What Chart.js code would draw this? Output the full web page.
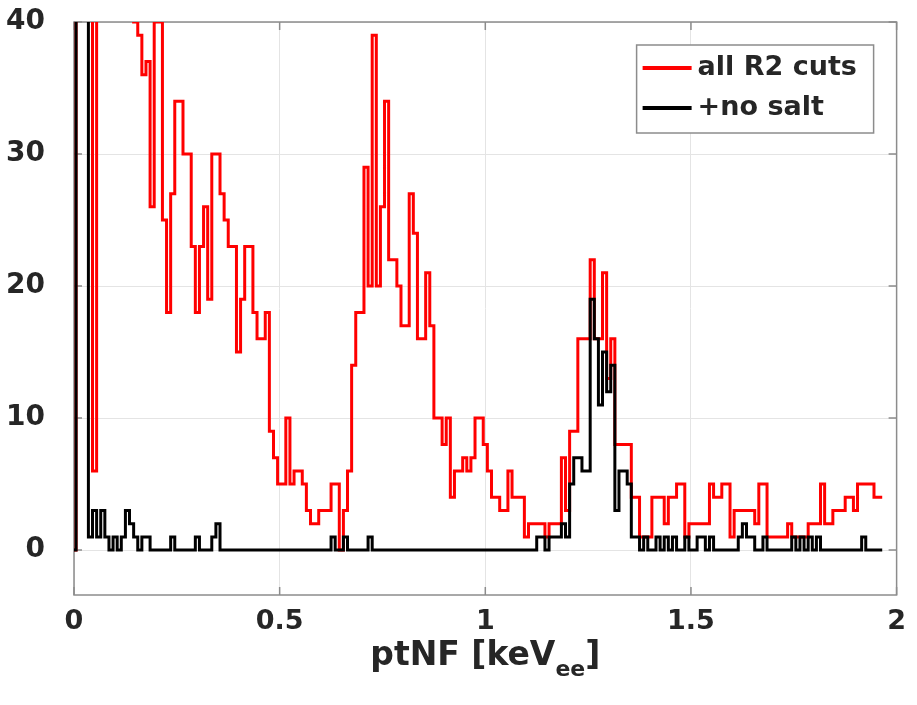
<!DOCTYPE html>
<html>
<head>
<meta charset="utf-8">
<script src="https://cdn.jsdelivr.net/npm/chart.js@4.4.1/dist/chart.umd.min.js"></script>
<style>
  html, body { margin: 0; padding: 0; background: #ffffff; }
  #myChart { display: block; }
</style>
</head>
<body>
<canvas id="myChart" width="917" height="705"></canvas>
<script>
// histogram bins are 0.01 keVee wide, bin i is centred on i * binWidth
const binWidth = 0.01;

// counts per bin (values above 40 run off the top)
const redCounts = [
  0, 0, 60, 60, 60, 60, 6, 55, 55, 50,      // 0.00 - 0.09
  50, 48, 48, 45, 45, 42, 40, 39, 36, 37,   // 0.10 - 0.19
  26, 40, 40, 25, 18, 27, 34, 34, 30, 30,   // 0.20 - 0.29
  23, 18, 23, 26, 19, 30, 30, 27, 25, 23,   // 0.30 - 0.39
  23, 15, 19, 23, 23, 18, 16, 16, 18, 9,    // 0.40 - 0.49
  7, 5, 5, 10, 5, 6, 6, 5, 3, 2,            // 0.50 - 0.59
  2, 3, 3, 3, 5, 5, 0, 3, 6, 14,            // 0.60 - 0.69
  18, 18, 29, 20, 39, 20, 26, 34, 22, 22,   // 0.70 - 0.79
  20, 17, 17, 27, 24, 16, 16, 21, 17, 10,   // 0.80 - 0.89
  10, 8, 10, 4, 6, 6, 7, 6, 7, 10,          // 0.90 - 0.99
  10, 8, 6, 4, 4, 3, 3, 6, 4, 4,            // 1.00 - 1.09
  4, 1, 2, 2, 2, 2, 1, 2, 2, 2,             // 1.10 - 1.19
  7, 3, 9, 9, 16, 16, 16, 22, 16, 16,       // 1.20 - 1.29
  21, 13, 16, 8, 8, 8, 8, 4, 4, 1,          // 1.30 - 1.39
  1, 1, 4, 4, 4, 2, 4, 4, 5, 5,             // 1.40 - 1.49
  1, 2, 2, 2, 2, 2, 5, 4, 4, 5,             // 1.50 - 1.59
  5, 1, 3, 3, 3, 3, 3, 2, 5, 5,             // 1.60 - 1.69
  1, 1, 1, 1, 1, 2, 1, 1, 1, 1,             // 1.70 - 1.79
  2, 2, 2, 5, 2, 2, 3, 3, 3, 4,             // 1.80 - 1.89
  4, 3, 5, 5, 5, 5, 4                       // 1.90 - 1.96
];

const blackCounts = [
  0, 0, 60, 60, 60, 1, 3, 1, 3, 1,          // 0.00 - 0.09
  0, 1, 0, 1, 3, 2, 1, 0, 1, 1,             // 0.10 - 0.19
  0, 0, 0, 0, 0, 1, 0, 0, 0, 0,             // 0.20 - 0.29
  0, 1, 0, 0, 0, 1, 2, 0, 0, 0,             // 0.30 - 0.39
  0, 0, 0, 0, 0, 0, 0, 0, 0, 0,             // 0.40 - 0.49
  0, 0, 0, 0, 0, 0, 0, 0, 0, 0,             // 0.50 - 0.59
  0, 0, 0, 0, 1, 0, 0, 1, 0, 0,             // 0.60 - 0.69
  0, 0, 0, 1, 0, 0, 0, 0, 0, 0,             // 0.70 - 0.79
  0, 0, 0, 0, 0, 0, 0, 0, 0, 0,             // 0.80 - 0.89
  0, 0, 0, 0, 0, 0, 0, 0, 0, 0,             // 0.90 - 0.99
  0, 0, 0, 0, 0, 0, 0, 0, 0, 0,             // 1.00 - 1.09
  0, 0, 0, 0, 1, 1, 0, 1, 1, 1,             // 1.10 - 1.19
  2, 1, 5, 7, 7, 6, 6, 19, 16, 11,          // 1.20 - 1.29
  15, 12, 14, 3, 6, 6, 5, 1, 1, 0,          // 1.30 - 1.39
  1, 0, 0, 1, 0, 1, 0, 1, 0, 0,             // 1.40 - 1.49
  1, 0, 0, 1, 1, 0, 1, 0, 0, 0,             // 1.50 - 1.59
  0, 0, 0, 1, 2, 1, 1, 0, 0, 1,             // 1.60 - 1.69
  0, 0, 0, 0, 0, 0, 1, 0, 1, 0,             // 1.70 - 1.79
  1, 0, 1, 0, 0, 0, 0, 0, 0, 0,             // 1.80 - 1.89
  0, 0, 0, 1, 0, 0, 0                       // 1.90 - 1.96
];

const seriesLabels = ['all R2 cuts', '+no salt'];
const xTicks = [0, 0.5, 1, 1.5, 2];
const yTicks = [0, 10, 20, 30, 40];

const textColor = '#262626';
const axisColor = '#8c8c8c';
const fontFamily = "'DejaVu Sans', sans-serif";

// turn counts into stair points: one point on the left edge of every bin, plus the last right edge
const toStairs = (counts) => {
  const pts = counts.map((c, i) => ({ x: (i - 0.5) * binWidth, y: c }));
  pts.push({ x: (counts.length - 0.5) * binWidth, y: counts[counts.length - 1] });
  return pts;
};

// box, inward ticks, legend and the x title with its subscript
const framePlugin = {
  id: 'frame',
  beforeDatasetsDraw(chart) {
    const { ctx, chartArea: a, scales } = chart;
    ctx.save();
    ctx.strokeStyle = axisColor;
    ctx.lineWidth = 1.5;
    ctx.strokeRect(a.left, a.top, a.right - a.left, a.bottom - a.top);
    ctx.beginPath();
    xTicks.forEach((v) => {
      const px = scales.x.getPixelForValue(v);
      ctx.moveTo(px, a.bottom); ctx.lineTo(px, a.bottom - 8);
      ctx.moveTo(px, a.top); ctx.lineTo(px, a.top + 8);
    });
    yTicks.forEach((v) => {
      const py = scales.y.getPixelForValue(v);
      ctx.moveTo(a.left, py); ctx.lineTo(a.left + 8, py);
      ctx.moveTo(a.right, py); ctx.lineTo(a.right - 8, py);
    });
    ctx.stroke();
    ctx.restore();
  },
  afterDraw(chart) {
    const { ctx, chartArea: a } = chart;
    ctx.save();

    // legend box in the upper right corner
    const boxW = 237, boxH = 88;
    const bx = a.right - 23 - boxW, by = a.top + 23;
    ctx.fillStyle = '#ffffff';
    ctx.fillRect(bx, by, boxW, boxH);
    ctx.strokeStyle = axisColor;
    ctx.lineWidth = 1.5;
    ctx.strokeRect(bx, by, boxW, boxH);
    ctx.font = 'bold 27px ' + fontFamily;
    ctx.textBaseline = 'middle';
    ctx.textAlign = 'left';
    chart.data.datasets.forEach((ds, i) => {
      const ly = by + 23 + i * 40;
      ctx.strokeStyle = ds.borderColor;
      ctx.lineWidth = 4;
      ctx.beginPath();
      ctx.moveTo(bx + 6, ly);
      ctx.lineTo(bx + 55, ly);
      ctx.stroke();
      ctx.fillStyle = textColor;
      ctx.fillText(ds.label, bx + 61, ly);
    });

    // x axis title: ptNF [keV_ee]
    const mainFont = 'bold 33px ' + fontFamily;
    const subFont = 'bold 22px ' + fontFamily;
    ctx.font = mainFont;
    const w1 = ctx.measureText('ptNF [keV').width;
    const w3 = ctx.measureText(']').width;
    ctx.font = subFont;
    const w2 = ctx.measureText('ee').width;
    let tx = (a.left + a.right) / 2 - (w1 + w2 + w3) / 2;
    const base = 665;
    ctx.fillStyle = textColor;
    ctx.textBaseline = 'alphabetic';
    ctx.font = mainFont;
    ctx.fillText('ptNF [keV', tx, base);
    tx += w1;
    ctx.font = subFont;
    ctx.fillText('ee', tx, base + 11);
    tx += w2;
    ctx.font = mainFont;
    ctx.fillText(']', tx, base);
    ctx.restore();
  },
};

const ctx = document.getElementById('myChart').getContext('2d');
window.myChart = new Chart(ctx, {
  type: 'line',
  data: {
    datasets: [
      {
        label: seriesLabels[0],
        data: toStairs(redCounts),
        borderColor: '#ff0000',
        borderWidth: 3,
        stepped: 'after',
        pointRadius: 0,
        fill: false,
        order: 1,
      },
      {
        label: seriesLabels[1],
        data: toStairs(blackCounts),
        borderColor: '#000000',
        borderWidth: 3,
        stepped: 'after',
        pointRadius: 0,
        fill: false,
        order: 0,
      },
    ],
  },
  options: {
    responsive: false,
    animation: false,
    devicePixelRatio: 1,
    events: [],
    layout: { padding: { top: 0, right: 0, left: 0, bottom: 0 } },
    plugins: {
      legend: { display: false },
      tooltip: { enabled: false },
    },
    scales: {
      x: {
        type: 'linear',
        min: 0,
        max: 2,
        afterBuildTicks: (scale) => {
          scale.ticks = xTicks.map((v) => ({ value: v }));
        },
        afterFit: (scale) => {
          scale.height = 110;
        },
        ticks: {
          color: textColor,
          font: { family: fontFamily, size: 27, weight: 'bold' },
          padding: 11,
          maxRotation: 0,
          callback: (v) => String(v),
        },
        grid: { color: '#e4e4e4', lineWidth: 1, drawTicks: false },
        border: { display: false },
      },
      y: {
        type: 'linear',
        min: -3.4,
        max: 40,
        afterBuildTicks: (scale) => {
          scale.ticks = yTicks.map((v) => ({ value: v }));
        },
        afterFit: (scale) => {
          scale.width = 74;
          scale.paddingTop = 22;
          scale.paddingBottom = 0;
        },
        ticks: {
          color: textColor,
          font: { family: fontFamily, size: 28, weight: 'bold' },
          padding: 29,
        },
        grid: { color: '#e4e4e4', lineWidth: 1, drawTicks: false },
        border: { display: false },
      },
    },
  },
  plugins: [framePlugin],
});
</script>
</body>
</html>
